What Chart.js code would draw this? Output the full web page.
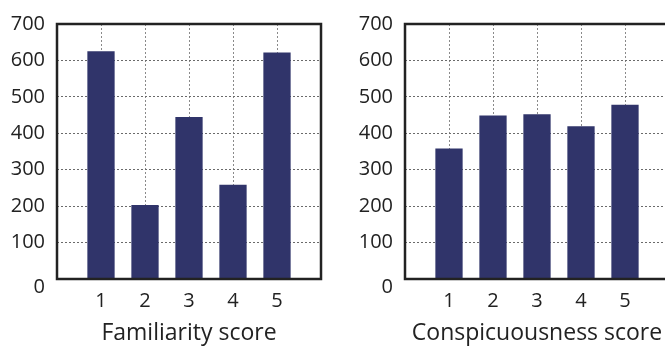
<!DOCTYPE html>
<html>
<head>
<meta charset="utf-8">
<script src="https://cdn.jsdelivr.net/npm/chart.js@4"></script>
<style>
  html, body { margin: 0; padding: 0; background: #fff; overflow: hidden; }
  body { width: 665px; height: 347px; position: relative; }
  canvas { position: absolute; top: 0; }
  #familiarity { left: 0; }
  #conspicuousness { left: 348px; }
</style>
</head>
<body>
<canvas id="familiarity" width="335" height="347"></canvas>
<canvas id="conspicuousness" width="335" height="347"></canvas>
<script>
// Scores on the x axis and counts for each score
const scores = [1, 2, 3, 4, 5];
const familiarityCounts = [625, 203, 445, 259, 622];
const conspicuousnessCounts = [358, 449, 452, 419, 478];
const yTicks = [0, 100, 200, 300, 400, 500, 600, 700];

const BAR_COLOR = '#30346a';
const FONT = 'Open Sans';

// Frame around the plot area plus the "0" label sitting just below the baseline
const framePlugin = {
  id: 'frame',
  afterDatasetsDraw(chart) {
    const { ctx, chartArea: a, scales } = chart;
    ctx.save();
    ctx.strokeStyle = '#222';
    ctx.lineWidth = 2.5;
    ctx.strokeRect(a.left, a.top, a.right - a.left, a.bottom - a.top);
    ctx.fillStyle = '#222';
    ctx.font = '20px "' + FONT + '"';
    ctx.textAlign = 'right';
    ctx.textBaseline = 'middle';
    ctx.fillText(String(yTicks[0]), a.left - 12, scales.y.getPixelForValue(yTicks[0]) + 8);
    ctx.restore();
  }
};

function makeChart(id, values, title) {
  return new Chart(document.getElementById(id), {
    type: 'bar',
    data: {
      datasets: [{
        data: scores.map((s, i) => ({ x: s, y: values[i] })),
        backgroundColor: BAR_COLOR,
        borderWidth: 0,
        barPercentage: 0.62,
        categoryPercentage: 1
      }]
    },
    options: {
      responsive: false,
      animation: false,
      events: [],
      layout: { padding: { top: 17, right: 14, left: 0, bottom: 0 } },
      plugins: { legend: { display: false }, tooltip: { enabled: false } },
      scales: {
        x: {
          type: 'linear',
          min: 0,
          max: 6,
          offset: false,
          afterBuildTicks(scale) {
            scale.ticks = [0, ...scores, 6].map(v => ({ value: v }));
          },
          afterFit(scale) { scale.height = 68; },
          border: { display: false, dash: [2, 2] },
          grid: { color: '#8a8a8a', lineWidth: 1, drawTicks: false, offset: false },
          ticks: {
            padding: 10,
            color: '#222',
            font: { family: FONT, size: 20 },
            callback: v => scores.includes(v) ? String(v) : ''
          },
          title: {
            display: true,
            text: title,
            color: '#222',
            font: { family: FONT, size: 23 },
            padding: { top: 0, bottom: 0 }
          }
        },
        y: {
          min: 0,
          max: 700,
          afterBuildTicks(scale) {
            scale.ticks = yTicks.map(v => ({ value: v }));
          },
          afterFit(scale) { scale.width = 57; },
          border: { display: false, dash: [2, 2] },
          grid: { color: '#6a6a6a', lineWidth: 1, drawTicks: false },
          ticks: {
            padding: 12,
            color: '#222',
            font: { family: FONT, size: 20 },
            callback: v => v === yTicks[0] ? '' : String(v)
          }
        }
      }
    },
    plugins: [framePlugin]
  });
}

makeChart('familiarity', familiarityCounts, 'Familiarity score');
makeChart('conspicuousness', conspicuousnessCounts, 'Conspicuousness score');
</script>
</body>
</html>
